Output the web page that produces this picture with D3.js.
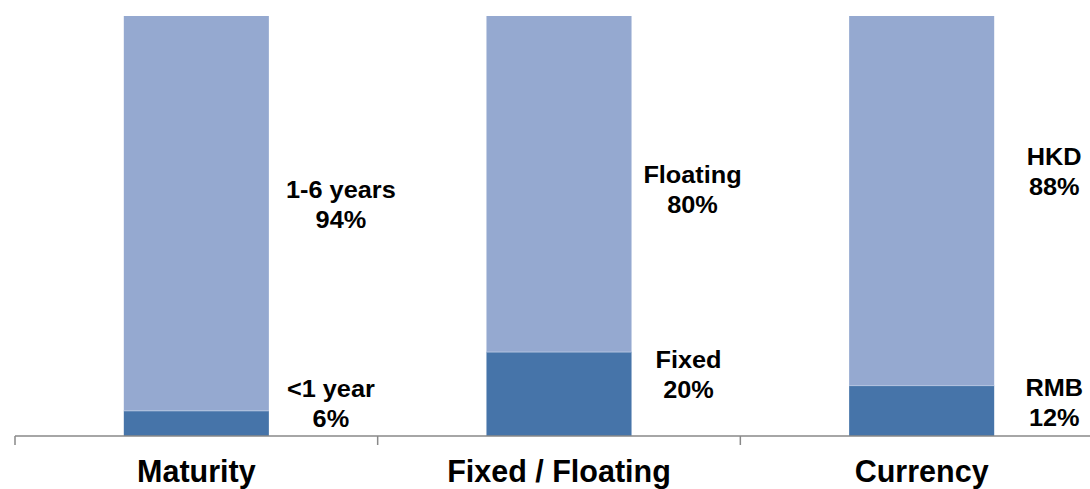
<!DOCTYPE html>
<html>
<head>
<meta charset="utf-8">
<script src="https://cdn.jsdelivr.net/npm/d3@7"></script>
<style>
  html, body { margin: 0; padding: 0; background: #fff; }
  svg { display: block; font-family: Arial, "Liberation Sans", Helvetica, sans-serif; }
</style>
</head>
<body>
<svg id="chart" width="1090" height="489"></svg>
<script>
// Portfolio breakdown: three 100% stacked columns
const categories = ["Maturity", "Fixed / Floating", "Currency"];
const lowerNames = ["<1 year", "Fixed", "RMB"];
const upperNames = ["1-6 years", "Floating", "HKD"];
const lowerValues = [6, 20, 12];
const upperValues = [94, 80, 88];

// label placement (offset from bar right edge, baseline of first line)
const layout = {
  upperDx: [72, 61, 60],
  lowerDx: [62, 57, 60],
  upperBaseline: [198, 183, 165],
  lowerBaseline: [397, 368, 396],
  lineGap: 30
};

const svg = d3.select("#chart");
const axisY = 436;

const x = d3.scaleBand()
  .domain(categories)
  .range([15, 1103])
  .paddingInner(0.6)
  .paddingOuter(0.3);

const y = d3.scaleLinear().domain([0, 100]).range([axisY, 16]);

const rows = categories.map((c, i) => ({
  cat: c,
  lower: lowerValues[i],
  upper: upperValues[i],
  lowerName: lowerNames[i],
  upperName: upperNames[i],
  i
}));

const stack = d3.stack().keys(["lower", "upper"])(rows);
const colors = { lower: "#4674a9", upper: "#95a9d0" };

svg.append("g").selectAll("g")
  .data(stack)
  .join("g")
  .attr("fill", d => colors[d.key])
  .selectAll("rect")
  .data(d => d)
  .join("rect")
  .attr("x", d => x(d.data.cat))
  .attr("width", x.bandwidth())
  .attr("y", d => y(d[1]))
  .attr("height", d => y(d[0]) - y(d[1]));

// thin light seam between the two segments
svg.append("g").selectAll("line")
  .data(rows)
  .join("line")
  .attr("x1", d => x(d.cat)).attr("x2", d => x(d.cat) + x.bandwidth())
  .attr("y1", d => y(d.lower)).attr("y2", d => y(d.lower))
  .attr("stroke", "#b3c3e0").attr("stroke-width", 1);

// category axis: boundary ticks between columns
const step = x.step();
const bounds = d3.range(categories.length + 1).map(k => 15 + k * step);
const axisG = svg.append("g").attr("stroke", "#898989").attr("stroke-width", 1.5);
axisG.append("line")
  .attr("x1", bounds[0]).attr("x2", bounds[bounds.length - 1])
  .attr("y1", axisY).attr("y2", axisY);
axisG.selectAll("line.tick")
  .data(bounds)
  .join("line")
  .attr("class", "tick")
  .attr("x1", d => d).attr("x2", d => d)
  .attr("y1", axisY).attr("y2", axisY + 9);

svg.append("g").selectAll("text")
  .data(categories)
  .join("text")
  .attr("x", d => x(d) + x.bandwidth() / 2)
  .attr("y", 482)
  .attr("text-anchor", "middle")
  .attr("font-size", 30.5)
  .attr("font-weight", "bold")
  .attr("fill", "#000")
  .text(d => d);

// value labels to the right of each column
function labelBlock(cx, baseline, name, value) {
  const g = svg.append("g")
    .attr("transform", `translate(${cx},${baseline}) scale(1.1,1)`)
    .attr("font-size", 23)
    .attr("font-weight", "bold")
    .attr("text-anchor", "middle")
    .attr("fill", "#000");
  g.append("text").attr("x", 0).attr("y", 0).text(name);
  g.append("text").attr("x", 0).attr("y", layout.lineGap).text(value + "%");
}

rows.forEach(r => {
  const right = x(r.cat) + x.bandwidth();
  labelBlock(right + layout.upperDx[r.i], layout.upperBaseline[r.i], r.upperName, r.upper);
  labelBlock(right + layout.lowerDx[r.i], layout.lowerBaseline[r.i], r.lowerName, r.lower);
});
</script>
</body>
</html>
